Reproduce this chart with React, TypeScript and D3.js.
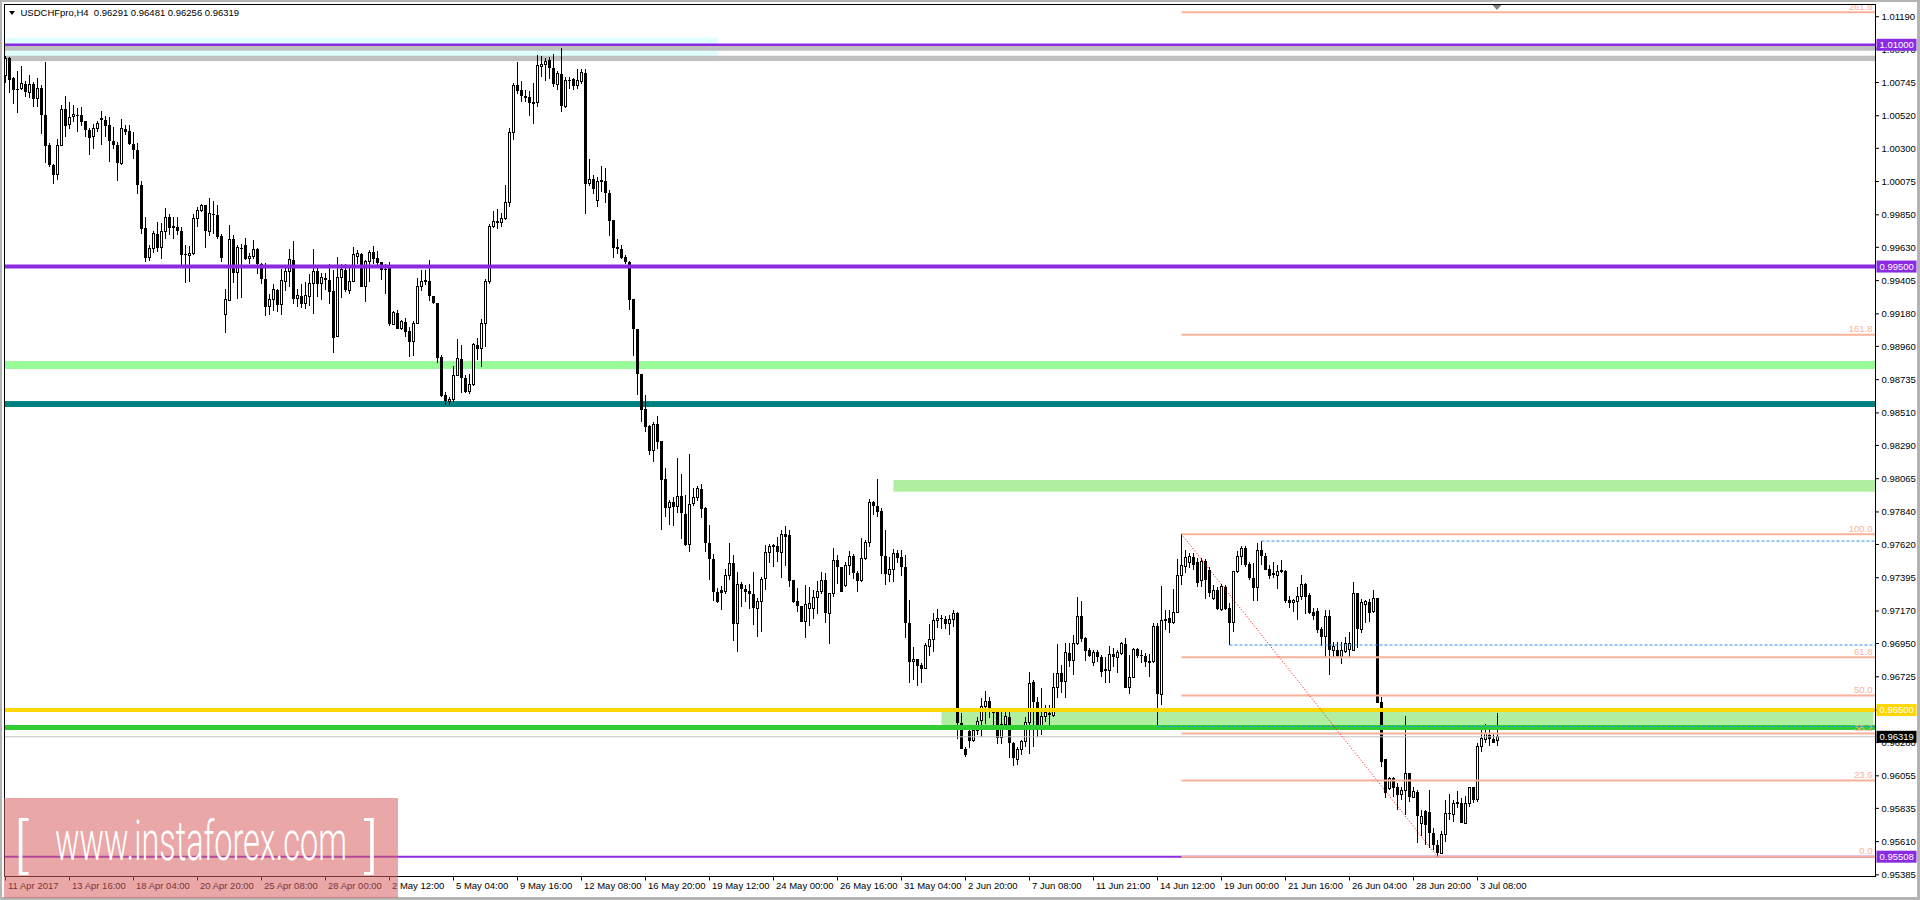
import * as React from 'react';
import {useEffect, useRef} from 'react';
import * as d3 from 'd3';

// USDCHFpro H4 bars, [open, high, low, close]
const ohlc: number[][] = [
  [1.00793, 1.00923, 1.00743, 1.00910], [1.00914, 1.00919, 1.00676, 1.00764], [1.00775, 1.00782, 1.00601, 1.00696], [1.00703, 1.00820, 1.00541, 1.00696],
  [1.00703, 1.00854, 1.00692, 1.00737], [1.00737, 1.00755, 1.00647, 1.00680], [1.00680, 1.00793, 1.00640, 1.00730], [1.00732, 1.00748, 1.00579, 1.00635],
  [1.00635, 1.00777, 1.00579, 1.00707], [1.00707, 1.00725, 1.00397, 1.00527], [1.00527, 1.00883, 1.00200, 1.00317], [1.00320, 1.00338, 1.00173, 1.00185],
  [1.00189, 1.00196, 1.00061, 1.00117], [1.00122, 1.00361, 1.00088, 1.00320], [1.00320, 1.00595, 1.00316, 1.00563], [1.00563, 1.00651, 1.00377, 1.00451],
  [1.00460, 1.00613, 1.00428, 1.00507], [1.00512, 1.00590, 1.00478, 1.00530], [1.00527, 1.00572, 1.00410, 1.00518], [1.00523, 1.00579, 1.00451, 1.00478],
  [1.00482, 1.00482, 1.00377, 1.00421], [1.00426, 1.00437, 1.00257, 1.00370], [1.00377, 1.00467, 1.00298, 1.00437], [1.00437, 1.00482, 1.00410, 1.00467],
  [1.00507, 1.00549, 1.00324, 1.00493], [1.00493, 1.00518, 1.00377, 1.00451], [1.00455, 1.00511, 1.00207, 1.00347], [1.00352, 1.00444, 1.00298, 1.00320],
  [1.00324, 1.00343, 1.00081, 1.00200], [1.00200, 1.00500, 1.00189, 1.00433], [1.00433, 1.00455, 1.00387, 1.00410], [1.00414, 1.00459, 1.00324, 1.00331],
  [1.00331, 1.00410, 1.00225, 1.00286], [1.00286, 1.00338, 0.99991, 1.00049], [1.00049, 1.00076, 0.99722, 0.99756], [0.99761, 0.99835, 0.99531, 0.99558],
  [0.99558, 0.99644, 0.99535, 0.99623], [0.99623, 0.99738, 0.99589, 0.99722], [0.99722, 0.99801, 0.99599, 0.99623], [0.99628, 0.99797, 0.99549, 0.99734],
  [0.99734, 0.99896, 0.99684, 0.99835], [0.99835, 0.99858, 0.99711, 0.99761], [0.99772, 0.99835, 0.99684, 0.99761], [0.99768, 0.99835, 0.99711, 0.99738],
  [0.99740, 0.99768, 0.99508, 0.99581], [0.99583, 0.99648, 0.99391, 0.99578], [0.99578, 0.99637, 0.99396, 0.99587], [0.99587, 0.99855, 0.99576, 0.99828],
  [0.99828, 0.99905, 0.99768, 0.99876], [0.99876, 0.99925, 0.99869, 0.99914], [0.99914, 0.99918, 0.99623, 0.99740], [0.99740, 0.99966, 0.99707, 0.99858],
  [0.99858, 0.99943, 0.99722, 0.99846], [0.99851, 0.99918, 0.99684, 0.99700], [0.99704, 0.99722, 0.99531, 0.99558], [0.99175, 0.99346, 0.99051, 0.99276],
  [0.99272, 0.99783, 0.99270, 0.99684], [0.99689, 0.99716, 0.99391, 0.99459], [0.99459, 0.99643, 0.99278, 0.99628], [0.99628, 0.99650, 0.99290, 0.99623],
  [0.99643, 0.99695, 0.99542, 0.99553], [0.99553, 0.99592, 0.99520, 0.99569], [0.99565, 0.99677, 0.99553, 0.99614], [0.99616, 0.99628, 0.99452, 0.99515],
  [0.99520, 0.99524, 0.99384, 0.99414], [0.99418, 0.99526, 0.99163, 0.99227], [0.99227, 0.99312, 0.99170, 0.99276], [0.99276, 0.99384, 0.99200, 0.99344],
  [0.99344, 0.99350, 0.99193, 0.99238], [0.99242, 0.99486, 0.99170, 0.99407], [0.99402, 0.99497, 0.99335, 0.99468], [0.99468, 0.99621, 0.99362, 0.99546],
  [0.99546, 0.99670, 0.99249, 0.99281], [0.99281, 0.99350, 0.99227, 0.99303], [0.99303, 0.99380, 0.99222, 0.99249], [0.99249, 0.99395, 0.99215, 0.99303],
  [0.99299, 0.99452, 0.99231, 0.99384], [0.99384, 0.99616, 0.99177, 0.99468], [0.99468, 0.99497, 0.99294, 0.99384], [0.99384, 0.99456, 0.99276, 0.99425],
  [0.99425, 0.99456, 0.99339, 0.99411], [0.99411, 0.99515, 0.99245, 0.99328], [0.99332, 0.99474, 0.98916, 0.99019], [0.99024, 0.99564, 0.99024, 0.99425],
  [0.99425, 0.99520, 0.99287, 0.99479], [0.99479, 0.99520, 0.99328, 0.99339], [0.99339, 0.99490, 0.99317, 0.99402], [0.99402, 0.99632, 0.99395, 0.99580],
  [0.99571, 0.99614, 0.99520, 0.99587], [0.99587, 0.99594, 0.99362, 0.99362], [0.99362, 0.99546, 0.99260, 0.99535], [0.99535, 0.99610, 0.99395, 0.99598],
  [0.99598, 0.99637, 0.99520, 0.99553], [0.99557, 0.99603, 0.99508, 0.99526], [0.99531, 0.99531, 0.99407, 0.99479], [0.99486, 0.99515, 0.99312, 0.99474],
  [0.99497, 0.99531, 0.99096, 0.99109], [0.99109, 0.99200, 0.99103, 0.99188], [0.99188, 0.99204, 0.99076, 0.99080], [0.99080, 0.99141, 0.99069, 0.99125],
  [0.99125, 0.99154, 0.99024, 0.99058], [0.99062, 0.99091, 0.98889, 0.98990], [0.98990, 0.99132, 0.98893, 0.99114], [0.99114, 0.99425, 0.99109, 0.99366],
  [0.99366, 0.99474, 0.99335, 0.99400], [0.99400, 0.99474, 0.99373, 0.99405], [0.99400, 0.99546, 0.99267, 0.99299], [0.99303, 0.99303, 0.99249, 0.99254],
  [0.99254, 0.99254, 0.98848, 0.98882], [0.98889, 0.98904, 0.98618, 0.98625], [0.98629, 0.98652, 0.98562, 0.98589], [0.98589, 0.98618, 0.98562, 0.98598],
  [0.98598, 0.98825, 0.98585, 0.98765], [0.98765, 0.99012, 0.98765, 0.98877], [0.98877, 0.98967, 0.98645, 0.98747], [0.98747, 0.98765, 0.98645, 0.98652],
  [0.98652, 0.98776, 0.98641, 0.98704], [0.98704, 0.98986, 0.98695, 0.98972], [0.98972, 0.99017, 0.98866, 0.98945], [0.98945, 0.99143, 0.98821, 0.99114],
  [0.99114, 0.99414, 0.98956, 0.99400], [0.99400, 0.99790, 0.99385, 0.99774], [0.99774, 0.99873, 0.99761, 0.99808], [0.99808, 0.99891, 0.99756, 0.99795],
  [0.99797, 0.99862, 0.99765, 0.99824], [0.99824, 1.00054, 0.99813, 0.99932], [0.99932, 1.00437, 0.99903, 1.00405], [1.00405, 1.00743, 1.00353, 1.00725],
  [1.00725, 1.00887, 1.00669, 1.00685], [1.00691, 1.00752, 1.00612, 1.00653], [1.00657, 1.00696, 1.00612, 1.00639], [1.00644, 1.00685, 1.00516, 1.00606],
  [1.00606, 1.00743, 1.00461, 1.00610], [1.00612, 1.00928, 1.00579, 1.00860], [1.00856, 1.00923, 1.00781, 1.00867], [1.00865, 1.00910, 1.00754, 1.00887],
  [1.00894, 1.00917, 1.00770, 1.00844], [1.00844, 1.00935, 1.00714, 1.00732], [1.00732, 1.00826, 1.00691, 1.00804], [1.00804, 1.00980, 1.00545, 1.00585],
  [1.00585, 1.00781, 1.00572, 1.00759], [1.00759, 1.00781, 1.00703, 1.00757], [1.00770, 1.00775, 1.00691, 1.00721], [1.00725, 1.00838, 1.00703, 1.00759],
  [1.00754, 1.00838, 1.00736, 1.00811], [1.00811, 1.00833, 0.99853, 1.00056], [1.00060, 1.00225, 1.00045, 1.00090], [1.00090, 1.00117, 0.99988, 1.00022],
  [0.99948, 1.00105, 0.99903, 1.00076], [1.00076, 1.00178, 1.00004, 1.00081], [1.00078, 1.00166, 0.99930, 0.99999], [0.99999, 1.00015, 0.99704, 0.99806],
  [0.99813, 0.99813, 0.99558, 0.99626], [0.99632, 0.99689, 0.99587, 0.99621], [0.99621, 0.99648, 0.99549, 0.99558], [0.99565, 0.99581, 0.99520, 0.99531],
  [0.99531, 0.99540, 0.99204, 0.99272], [0.99279, 0.99279, 0.98896, 0.99076], [0.99080, 0.99080, 0.98630, 0.98772], [0.98776, 0.98776, 0.98449, 0.98528],
  [0.98535, 0.98634, 0.98382, 0.98416], [0.98422, 0.98431, 0.98224, 0.98251], [0.98253, 0.98449, 0.98179, 0.98431], [0.98433, 0.98487, 0.98269, 0.98314],
  [0.98318, 0.98318, 0.97717, 0.98059], [0.98062, 0.98134, 0.97807, 0.97868], [0.97868, 0.97920, 0.97751, 0.97904], [0.97904, 0.97942, 0.97744, 0.97875],
  [0.97875, 0.98208, 0.97834, 0.97947], [0.97947, 0.98100, 0.97656, 0.97834], [0.97829, 0.97958, 0.97609, 0.97615], [0.97620, 0.98235, 0.97570, 0.97890],
  [0.97897, 0.98005, 0.97879, 0.97938], [0.97938, 0.98014, 0.97913, 0.97998], [0.97998, 0.98032, 0.97796, 0.97863], [0.97865, 0.97875, 0.97570, 0.97627],
  [0.97627, 0.97755, 0.97379, 0.97525], [0.97525, 0.97555, 0.97239, 0.97296], [0.97296, 0.97323, 0.97226, 0.97232], [0.97311, 0.97338, 0.97176, 0.97293],
  [0.97300, 0.97451, 0.97284, 0.97408], [0.97408, 0.97633, 0.97379, 0.97492], [0.97492, 0.97548, 0.96969, 0.97079], [0.97086, 0.97431, 0.96894, 0.97352],
  [0.97352, 0.97368, 0.97199, 0.97316], [0.97316, 0.97345, 0.97232, 0.97300], [0.97304, 0.97352, 0.97181, 0.97282], [0.97282, 0.97431, 0.97075, 0.97187],
  [0.97187, 0.97255, 0.96996, 0.97237], [0.97237, 0.97401, 0.97030, 0.97383], [0.97390, 0.97615, 0.97311, 0.97566], [0.97566, 0.97622, 0.97492, 0.97609],
  [0.97609, 0.97622, 0.97469, 0.97613], [0.97611, 0.97672, 0.97503, 0.97566], [0.97566, 0.97721, 0.97395, 0.97688], [0.97688, 0.97746, 0.97476, 0.97672],
  [0.97683, 0.97721, 0.97329, 0.97374], [0.97379, 0.97383, 0.97226, 0.97232], [0.97237, 0.97323, 0.97165, 0.97203], [0.97203, 0.97203, 0.97097, 0.97097],
  [0.97097, 0.97345, 0.96985, 0.97217], [0.97187, 0.97334, 0.97068, 0.97221], [0.97187, 0.97311, 0.97113, 0.97262], [0.97262, 0.97372, 0.97149, 0.97305],
  [0.97305, 0.97431, 0.97282, 0.97379], [0.97379, 0.97428, 0.97091, 0.97158], [0.97154, 0.97289, 0.96944, 0.97289], [0.97289, 0.97593, 0.97262, 0.97514],
  [0.97514, 0.97548, 0.97356, 0.97465], [0.97465, 0.97465, 0.97300, 0.97300], [0.97341, 0.97503, 0.97334, 0.97480], [0.97476, 0.97577, 0.97413, 0.97541],
  [0.97541, 0.97555, 0.97386, 0.97424], [0.97424, 0.97442, 0.97296, 0.97374], [0.97374, 0.97661, 0.97368, 0.97525], [0.97525, 0.97649, 0.97514, 0.97633],
  [0.97633, 0.97931, 0.97604, 0.97904], [0.97904, 0.97915, 0.97818, 0.97879], [0.97879, 0.98062, 0.97807, 0.97841], [0.97845, 0.97868, 0.97419, 0.97543],
  [0.97541, 0.97717, 0.97345, 0.97417], [0.97417, 0.97537, 0.97363, 0.97451], [0.97451, 0.97588, 0.97368, 0.97559], [0.97559, 0.97586, 0.97496, 0.97530],
  [0.97532, 0.97582, 0.97406, 0.97469], [0.97469, 0.97548, 0.96985, 0.97090], [0.97090, 0.97244, 0.96680, 0.96827], [0.96827, 0.96924, 0.96703, 0.96843],
  [0.96843, 0.96843, 0.96662, 0.96797], [0.96802, 0.96820, 0.96685, 0.96779], [0.96779, 0.96955, 0.96775, 0.96939], [0.96933, 0.97081, 0.96865, 0.96978],
  [0.96978, 0.97158, 0.96894, 0.97108], [0.97104, 0.97181, 0.97057, 0.97122], [0.97122, 0.97142, 0.97045, 0.97113], [0.97115, 0.97138, 0.97045, 0.97081],
  [0.97086, 0.97142, 0.97007, 0.97115], [0.97113, 0.97176, 0.97063, 0.97154], [0.97154, 0.97165, 0.96302, 0.96410], [0.96410, 0.96478, 0.96234, 0.96234],
  [0.96237, 0.96248, 0.96185, 0.96196], [0.96358, 0.96376, 0.96241, 0.96293], [0.96293, 0.96388, 0.96286, 0.96365], [0.96365, 0.96455, 0.96331, 0.96421],
  [0.96428, 0.96579, 0.96320, 0.96523], [0.96523, 0.96629, 0.96405, 0.96561], [0.96561, 0.96590, 0.96444, 0.96489], [0.96489, 0.96489, 0.96388, 0.96484],
  [0.96484, 0.96484, 0.96268, 0.96313], [0.96313, 0.96484, 0.96268, 0.96403], [0.96403, 0.96484, 0.96370, 0.96455], [0.96455, 0.96489, 0.96173, 0.96275],
  [0.96275, 0.96286, 0.96122, 0.96173], [0.96167, 0.96252, 0.96128, 0.96234], [0.96234, 0.96297, 0.96196, 0.96286], [0.96286, 0.96455, 0.96252, 0.96417],
  [0.96417, 0.96759, 0.96203, 0.96680], [0.96687, 0.96703, 0.96248, 0.96552], [0.96552, 0.96590, 0.96320, 0.96370], [0.96370, 0.96647, 0.96331, 0.96455],
  [0.96455, 0.96534, 0.96421, 0.96482], [0.96482, 0.96534, 0.96388, 0.96464], [0.96464, 0.96752, 0.96455, 0.96653], [0.96653, 0.96946, 0.96579, 0.96748],
  [0.96748, 0.96804, 0.96613, 0.96687], [0.96692, 0.96951, 0.96584, 0.96890], [0.96888, 0.96955, 0.96788, 0.96834], [0.96834, 0.97007, 0.96737, 0.96951],
  [0.96951, 0.97266, 0.96939, 0.97135], [0.97135, 0.97237, 0.96962, 0.96980], [0.96984, 0.96991, 0.96834, 0.96901], [0.96906, 0.96917, 0.96861, 0.96865],
  [0.96822, 0.96906, 0.96797, 0.96890], [0.96890, 0.96906, 0.96822, 0.96856], [0.96856, 0.96872, 0.96721, 0.96759], [0.96775, 0.96861, 0.96680, 0.96766],
  [0.96766, 0.96933, 0.96680, 0.96876], [0.96876, 0.96917, 0.96793, 0.96856], [0.96856, 0.96906, 0.96752, 0.96888], [0.96883, 0.96962, 0.96872, 0.96951],
  [0.96946, 0.96985, 0.96647, 0.96651], [0.96651, 0.96872, 0.96606, 0.96721], [0.96721, 0.96921, 0.96714, 0.96912], [0.96912, 0.96917, 0.96849, 0.96867],
  [0.96872, 0.96906, 0.96816, 0.96865], [0.96865, 0.96888, 0.96793, 0.96827], [0.96827, 0.96876, 0.96725, 0.96831], [0.96827, 0.97086, 0.96816, 0.97068],
  [0.97068, 0.97086, 0.96392, 0.96606], [0.96606, 0.97338, 0.96534, 0.97104], [0.97104, 0.97176, 0.97041, 0.97113], [0.97120, 0.97176, 0.97018, 0.97090],
  [0.97090, 0.97322, 0.97081, 0.97160], [0.97160, 0.97525, 0.97154, 0.97413], [0.97413, 0.97690, 0.97345, 0.97480], [0.97469, 0.97586, 0.97428, 0.97530],
  [0.97496, 0.97559, 0.97458, 0.97537], [0.97532, 0.97559, 0.97446, 0.97480], [0.97503, 0.97530, 0.97334, 0.97361], [0.97379, 0.97530, 0.97334, 0.97507],
  [0.97507, 0.97525, 0.97250, 0.97379], [0.97446, 0.97469, 0.97262, 0.97293], [0.97255, 0.97345, 0.97244, 0.97311], [0.97311, 0.97334, 0.97176, 0.97181],
  [0.97181, 0.97356, 0.97171, 0.97334], [0.97334, 0.97345, 0.97176, 0.97181], [0.97188, 0.97221, 0.96939, 0.97090], [0.97090, 0.97435, 0.97025, 0.97435],
  [0.97435, 0.97575, 0.97424, 0.97541], [0.97541, 0.97609, 0.97480, 0.97593], [0.97593, 0.97609, 0.97469, 0.97480], [0.97491, 0.97503, 0.97379, 0.97390],
  [0.97390, 0.97496, 0.97239, 0.97327], [0.97327, 0.97627, 0.97239, 0.97582], [0.97582, 0.97643, 0.97480, 0.97541], [0.97541, 0.97559, 0.97446, 0.97446],
  [0.97453, 0.97480, 0.97385, 0.97406], [0.97424, 0.97503, 0.97390, 0.97413], [0.97413, 0.97480, 0.97322, 0.97435], [0.97435, 0.97518, 0.97424, 0.97442],
  [0.97442, 0.97446, 0.97221, 0.97237], [0.97244, 0.97271, 0.97187, 0.97226], [0.97226, 0.97248, 0.97165, 0.97244], [0.97233, 0.97334, 0.97108, 0.97271],
  [0.97266, 0.97413, 0.97244, 0.97352], [0.97356, 0.97361, 0.97153, 0.97266], [0.97277, 0.97289, 0.97149, 0.97158], [0.97165, 0.97187, 0.97108, 0.97135],
  [0.97171, 0.97187, 0.97023, 0.97041], [0.97045, 0.97063, 0.96933, 0.96996], [0.96996, 0.97180, 0.96861, 0.97135], [0.97135, 0.97176, 0.96737, 0.96906],
  [0.96901, 0.96962, 0.96861, 0.96933], [0.96906, 0.96962, 0.96861, 0.96865], [0.96865, 0.96962, 0.96811, 0.96906], [0.96894, 0.96996, 0.96888, 0.96951],
  [0.96910, 0.97030, 0.96849, 0.96951], [0.96906, 0.97367, 0.96901, 0.97289], [0.97289, 0.97293, 0.96917, 0.97045], [0.97045, 0.97248, 0.97023, 0.97226],
  [0.97217, 0.97244, 0.97086, 0.97232], [0.97232, 0.97248, 0.97097, 0.97158], [0.97165, 0.97311, 0.97158, 0.97255], [0.97259, 0.97259, 0.96545, 0.96550],
  [0.96556, 0.96586, 0.96117, 0.96151], [0.96167, 0.96167, 0.95903, 0.95937], [0.95971, 0.96050, 0.95959, 0.96038], [0.96038, 0.96050, 0.95914, 0.95971],
  [0.95982, 0.96005, 0.95824, 0.95926], [0.95926, 0.95982, 0.95892, 0.95955], [0.95955, 0.96460, 0.95790, 0.96072], [0.96072, 0.96077, 0.95880, 0.95910],
  [0.95910, 0.95982, 0.95903, 0.95948], [0.95948, 0.95959, 0.95599, 0.95784], [0.95730, 0.95824, 0.95648, 0.95779], [0.95817, 0.95824, 0.95588, 0.95723],
  [0.95813, 0.95959, 0.95565, 0.95666], [0.95666, 0.95700, 0.95554, 0.95588], [0.95588, 0.95621, 0.95508, 0.95531], [0.95531, 0.95684, 0.95524, 0.95655],
  [0.95655, 0.95892, 0.95610, 0.95802], [0.95802, 0.95932, 0.95757, 0.95795], [0.95795, 0.95892, 0.95745, 0.95869], [0.95869, 0.95955, 0.95835, 0.95874],
  [0.95874, 0.95903, 0.95734, 0.95734], [0.95734, 0.95919, 0.95730, 0.95865], [0.95865, 0.95982, 0.95847, 0.95977], [0.95977, 0.95982, 0.95869, 0.95892],
  [0.95892, 0.96275, 0.95880, 0.96252], [0.96252, 0.96392, 0.96214, 0.96309], [0.96304, 0.96405, 0.96279, 0.96342], [0.96331, 0.96376, 0.96259, 0.96302],
  [0.96302, 0.96347, 0.96275, 0.96279], [0.96291, 0.96481, 0.96256, 0.96319],
];

const symbolName = 'USDCHFpro,H4';
const timeLabels = ['11 Apr 2017', '13 Apr 16:00', '18 Apr 04:00', '20 Apr 20:00', '25 Apr 08:00', '28 Apr 00:00', '2 May 12:00', '5 May 04:00',
  '9 May 16:00', '12 May 08:00', '16 May 20:00', '19 May 12:00', '24 May 00:00', '26 May 16:00', '31 May 04:00', '2 Jun 20:00', '7 Jun 08:00',
  '11 Jun 21:00', '14 Jun 12:00', '19 Jun 00:00', '21 Jun 16:00', '26 Jun 04:00', '28 Jun 20:00', '3 Jul 08:00'];
const barsPerTimeLabel = 16;
const priceTicks = [1.01190, 1.00970, 1.00745, 1.00520, 1.00300, 1.00075, 0.99850, 0.99630, 0.99405, 0.99180, 0.98960, 0.98735, 0.98510,
  0.98290, 0.98065, 0.97840, 0.97620, 0.97395, 0.97170, 0.96950, 0.96725, 0.96500, 0.96280, 0.96055, 0.95835, 0.95610, 0.95385];

// horizontal levels
const purpleLevels = [1.01000, 0.99500, 0.95508];
const yellowLevel = 0.96500;
const greenLevel = 0.96382;
const bidPrice = 0.96319;
const silverBands = [[1.00992, 1.00960], [1.00926, 1.00890]];
const paleGreenBand = [0.98861, 0.98807];
const tealBand = [0.98590, 0.98550];
// rectangles: [fromBar, toBar], [topPrice, bottomPrice]
const cyanBoxBars = [-1, 178];
const cyanBoxPrices = [1.01048, 1.00890];
const upperBoxBars = [222, 470];
const upperBoxPrices = [0.98056, 0.97977];
const lowerBoxBars = [234, 467];
const lowerBoxPrices = [0.96487, 0.96397];
// dashed levels
const dashStartBars = [314, 306, 288];
const dashPrices = [0.97643, 0.96940, 0.96389];
// fibonacci
const fibFromBar = 294;
const fibToBar = 358;
const fibHigh = 0.97690;
const fibLow = 0.95508;
const fibLevels = [0, 23.6, 38.2, 50, 61.8, 100, 161.8, 261.8];

const App = () => {
  const chartRef = useRef<SVGSVGElement>(null);

  useEffect(() => {
    document.body.style.margin = '0';
    const svg = d3.select(chartRef.current);
    svg.selectAll('*').remove();

    const font = 'Liberation Sans, Arial, sans-serif';
    const left = 4.5, top = 4.5, right = 1875.5, bottom = 876.5;
    const xScale = d3.scaleLinear().domain([0, 467]).range([5.5, 5.5 + 467 * 4]);
    const yScale = d3.scaleLinear().domain([fibLow, 1.01]).range([856.7, 44.8]);

    svg.append('rect').attr('width', 1920).attr('height', 900).attr('fill', '#b4b4b4');
    svg.append('rect').attr('x', 2).attr('y', 2).attr('width', 1915).attr('height', 895).attr('fill', '#ffffff');

    svg.append('clipPath').attr('id', 'plotClip')
      .append('rect').attr('x', left + 0.5).attr('y', top + 0.5).attr('width', right - left - 1).attr('height', bottom - top - 1);
    const plot = svg.append('g').attr('clip-path', 'url(#plotClip)');

    const box = (bars, prices, color) => {
      plot.append('rect')
        .attr('x', xScale(bars[0])).attr('y', yScale(prices[0]))
        .attr('width', xScale(bars[1]) - xScale(bars[0]))
        .attr('height', yScale(prices[1]) - yScale(prices[0]))
        .attr('fill', color);
    };
    const band = (prices, color) => {
      plot.append('rect')
        .attr('x', left).attr('y', yScale(prices[0]))
        .attr('width', right - left).attr('height', yScale(prices[1]) - yScale(prices[0]))
        .attr('fill', color);
    };

    // background objects
    box(cyanBoxBars, cyanBoxPrices, '#e0ffff');
    silverBands.forEach(b => band(b, '#c0c0c0'));
    band(paleGreenBand, '#98fb98');
    band(tealBand, '#008080');
    box(upperBoxBars, upperBoxPrices, '#b0eea0');
    box(lowerBoxBars, lowerBoxPrices, '#b0eea0');

    // candles
    const candles = plot.append('g').attr('shape-rendering', 'crispEdges');
    ohlc.forEach((d, i) => {
      const [o, h, l, c] = d;
      const x = xScale(i);
      candles.append('line')
        .attr('x1', x).attr('x2', x)
        .attr('y1', yScale(h)).attr('y2', yScale(l))
        .attr('stroke', '#000').attr('stroke-width', 1);
      const yTop = yScale(Math.max(o, c));
      const hBody = Math.max(yScale(Math.min(o, c)) - yTop, 1);
      if (c >= o) {
        candles.append('rect')
          .attr('x', x - 1).attr('y', yTop).attr('width', 2).attr('height', hBody)
          .attr('fill', '#fff').attr('stroke', '#000').attr('stroke-width', 1);
      } else {
        candles.append('rect')
          .attr('x', x - 1.5).attr('y', yTop).attr('width', 3).attr('height', hBody)
          .attr('fill', '#000');
      }
    });

    // foreground lines
    const hline = (price, color, width, x0 = left) => {
      plot.append('line')
        .attr('x1', x0).attr('x2', right)
        .attr('y1', yScale(price)).attr('y2', yScale(price))
        .attr('stroke', color).attr('stroke-width', width);
    };
    hline(bidPrice, '#c0c0c0', 1);
    hline(purpleLevels[0], '#8a2be2', 2.5);
    hline(purpleLevels[1], '#8a2be2', 4);
    hline(purpleLevels[2], '#8a2be2', 2);
    hline(yellowLevel, '#ffd700', 4);
    hline(greenLevel, '#32cd32', 5);

    const fibColor = '#f9b29a';
    fibLevels.forEach(lv => {
      const p = fibLow + (fibHigh - fibLow) * lv / 100;
      hline(p, fibColor, 2, xScale(fibFromBar));
      plot.append('text')
        .attr('x', right - 3).attr('y', yScale(p) - 2.5)
        .attr('text-anchor', 'end')
        .attr('font-family', font).attr('font-size', 9.5)
        .attr('fill', fibColor)
        .text(lv.toFixed(1));
    });

    dashPrices.forEach((p, k) => {
      plot.append('line')
        .attr('x1', xScale(dashStartBars[k])).attr('x2', right)
        .attr('y1', yScale(p)).attr('y2', yScale(p))
        .attr('stroke', '#1e90ff').attr('stroke-width', 1)
        .attr('stroke-dasharray', '3 2');
    });

    plot.append('line')
      .attr('x1', xScale(fibFromBar)).attr('y1', yScale(fibHigh))
      .attr('x2', xScale(fibToBar)).attr('y2', yScale(fibLow))
      .attr('stroke', '#ff0000').attr('stroke-width', 1)
      .attr('stroke-dasharray', '1 2');

    // frame
    svg.append('path')
      .attr('d', `M${left},${bottom}V${top}H${right}V${bottom}H${left}`)
      .attr('fill', 'none').attr('stroke', '#000').attr('stroke-width', 1)
      .attr('shape-rendering', 'crispEdges');

    // price axis
    const axis = svg.append('g').attr('font-family', font).attr('font-size', 9.5);
    priceTicks.forEach(v => {
      const y = yScale(v);
      axis.append('line').attr('x1', right).attr('x2', right + 3.5).attr('y1', y).attr('y2', y)
        .attr('stroke', '#000').attr('stroke-width', 1);
      axis.append('text').attr('x', right + 6).attr('y', y).attr('dy', '0.35em').attr('fill', '#000')
        .text(v.toFixed(5));
    });

    const tag = (price, bg) => {
      const y = yScale(price);
      axis.append('rect').attr('x', right + 1).attr('y', y - 6).attr('width', 40).attr('height', 12).attr('fill', bg);
      axis.append('text').attr('x', right + 4).attr('y', y).attr('dy', '0.35em').attr('fill', '#fff')
        .text(price.toFixed(5));
    };
    tag(purpleLevels[0], '#8a2be2');
    tag(purpleLevels[1], '#8a2be2');
    tag(yellowLevel, '#ffd700');
    tag(bidPrice, '#000000');
    tag(purpleLevels[2], '#8a2be2');

    // time axis
    timeLabels.forEach((t, k) => {
      const x = xScale(k * barsPerTimeLabel);
      axis.append('line').attr('x1', x).attr('x2', x).attr('y1', bottom).attr('y2', bottom + 4)
        .attr('stroke', '#000').attr('stroke-width', 1);
      axis.append('text').attr('x', x + 2.5).attr('y', bottom + 12).attr('fill', '#000').text(t);
    });

    // header
    const last = ohlc[ohlc.length - 1];
    svg.append('path').attr('d', 'M9,11H15L12,15Z').attr('fill', '#000');
    svg.append('text')
      .attr('x', 20.5).attr('y', 16)
      .attr('font-family', font).attr('font-size', 9.5).attr('fill', '#000')
      .style('white-space', 'pre')
      .text(`${symbolName}  ${last.map(v => v.toFixed(5)).join(' ')}`);

    // chart shift marker
    svg.append('path').attr('d', 'M1492.5,5H1501.5L1497,10Z').attr('fill', '#808080');

    // watermark
    const wm = svg.append('g');
    wm.append('rect').attr('x', 4).attr('y', 798).attr('width', 394).attr('height', 100)
      .attr('fill', '#d95f5f').attr('opacity', 0.55);
    wm.append('text').attr('x', 14).attr('y', 866)
      .attr('font-family', 'Roboto, sans-serif').attr('font-size', 60).attr('font-weight', 300)
      .attr('fill', '#ffffff').text('[');
    wm.append('text').attr('x', 55).attr('y', 860)
      .attr('font-family', 'Roboto, sans-serif').attr('font-size', 56).attr('font-weight', 300)
      .attr('fill', '#ffffff')
      .attr('textLength', 292).attr('lengthAdjust', 'spacingAndGlyphs')
      .text('www.instaforex.com');
    wm.append('text').attr('x', 364).attr('y', 866)
      .attr('font-family', 'Roboto, sans-serif').attr('font-size', 60).attr('font-weight', 300)
      .attr('fill', '#ffffff').text(']');
  }, []);

  return (
    <svg ref={chartRef} width={1920} height={900} style={{display: 'block'}}></svg>
  );
};

export default App;
